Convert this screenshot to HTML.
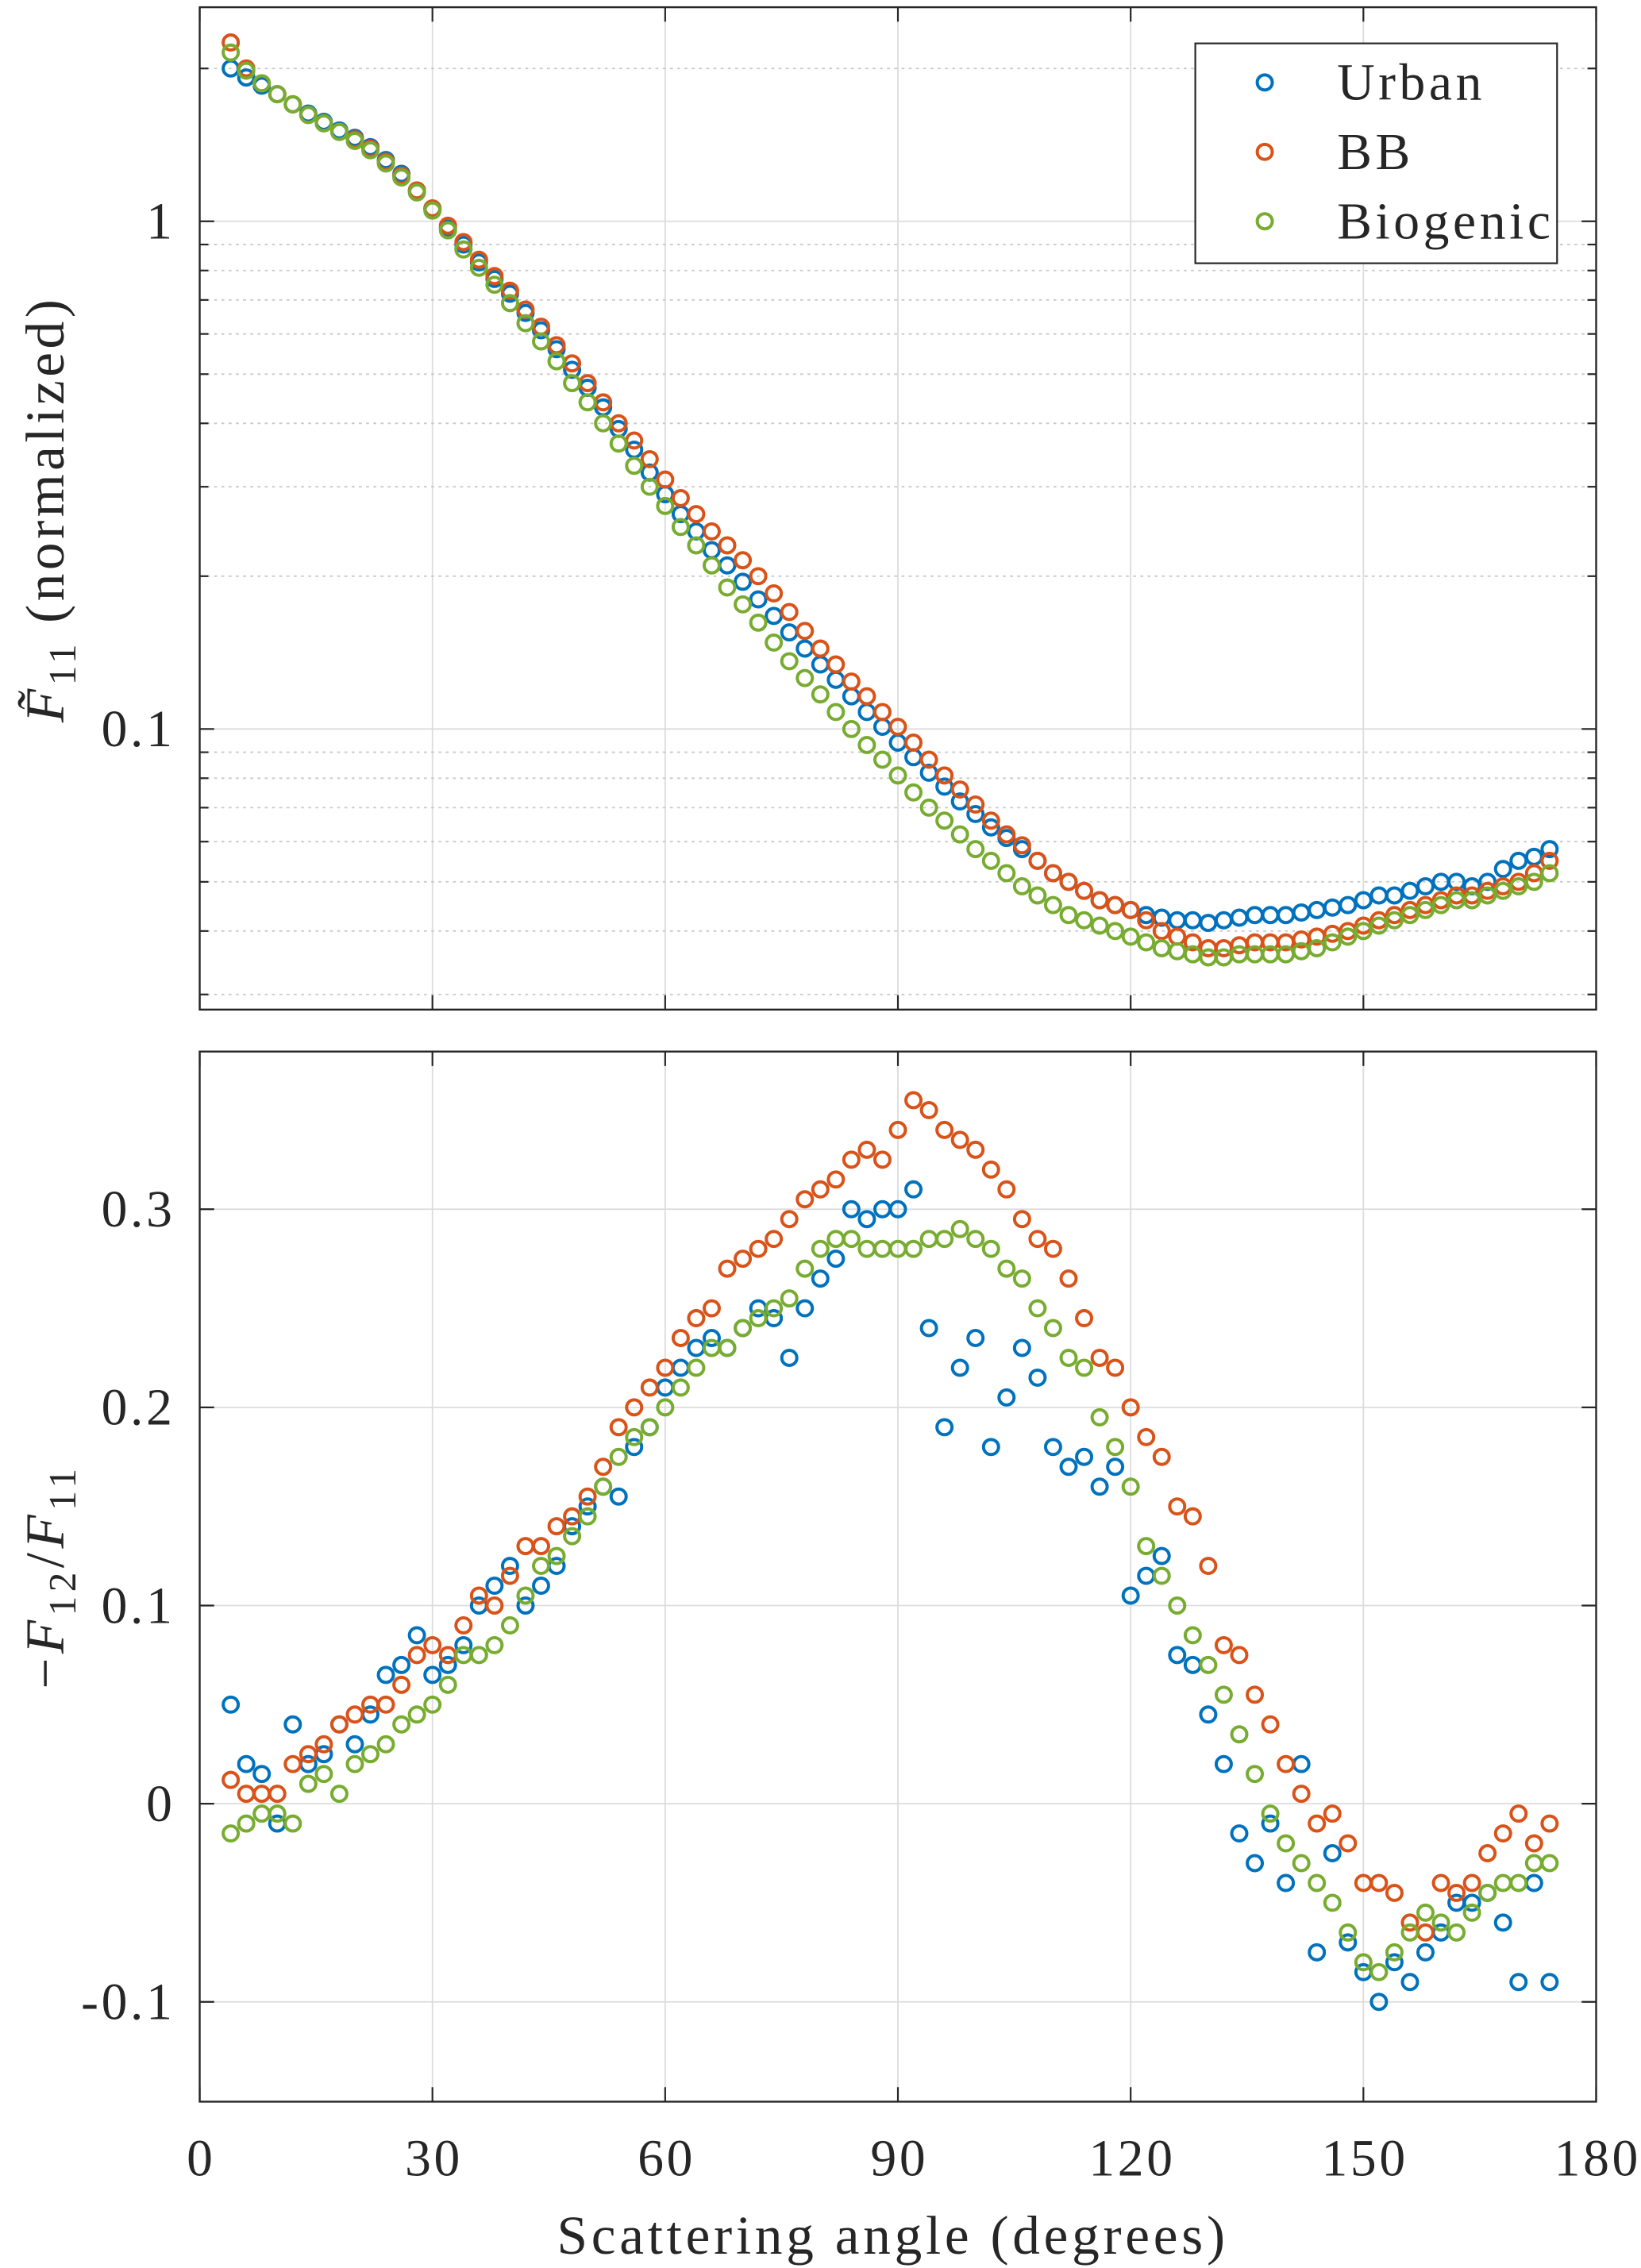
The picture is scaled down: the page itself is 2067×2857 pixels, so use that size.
<!DOCTYPE html>
<html><head><meta charset="utf-8"><style>
html,body{margin:0;padding:0;background:#fff}
svg{display:block}
text{font-family:"Liberation Serif",serif;fill:#262626}
</style></head><body>
<svg id="chart" xmlns="http://www.w3.org/2000/svg" width="2067" height="2857" viewBox="0 0 1134 1568" preserveAspectRatio="none">
<g id="topPanel"></g>
<g id="botPanel"></g>
</svg>
<script>
const angles = [];
for (let a = 4; a <= 174; a += 2) angles.push(a);
const f11Urban = [2.00,1.92,1.85,1.78,1.70,1.63,1.57,1.51,1.46,1.40,1.32,1.24,1.15,1.06,0.97,0.90,0.83,0.77,0.72,0.66,0.61,0.56,0.51,0.47,0.43,0.39,0.355,0.32,0.29,0.265,0.245,0.225,0.21,0.195,0.18,0.167,0.155,0.144,0.134,0.125,0.116,0.108,0.101,0.094,0.088,0.082,0.077,0.072,0.068,0.064,0.061,0.058,0.055,0.052,0.050,0.048,0.046,0.045,0.044,0.043,0.0425,0.042,0.042,0.0415,0.042,0.0425,0.043,0.043,0.043,0.0435,0.044,0.0445,0.045,0.046,0.047,0.047,0.048,0.049,0.050,0.050,0.049,0.050,0.053,0.055,0.056,0.058];
const f11BB = [2.25,2.0,1.87,1.78,1.70,1.62,1.56,1.50,1.45,1.39,1.31,1.23,1.15,1.06,0.98,0.91,0.84,0.78,0.73,0.67,0.62,0.57,0.525,0.48,0.44,0.40,0.37,0.34,0.31,0.285,0.265,0.245,0.23,0.215,0.20,0.185,0.17,0.156,0.144,0.134,0.124,0.116,0.108,0.101,0.094,0.087,0.081,0.076,0.071,0.066,0.062,0.059,0.055,0.052,0.050,0.048,0.046,0.045,0.044,0.042,0.040,0.039,0.038,0.037,0.037,0.0375,0.038,0.038,0.038,0.0385,0.039,0.0395,0.040,0.041,0.042,0.043,0.044,0.045,0.046,0.047,0.047,0.048,0.049,0.050,0.052,0.055];
const f11Bio = [2.15,1.98,1.87,1.78,1.70,1.62,1.56,1.50,1.44,1.38,1.30,1.22,1.14,1.05,0.96,0.88,0.81,0.75,0.69,0.63,0.58,0.53,0.48,0.44,0.40,0.365,0.33,0.30,0.275,0.25,0.23,0.21,0.19,0.176,0.162,0.148,0.136,0.126,0.117,0.108,0.100,0.093,0.087,0.081,0.075,0.070,0.066,0.062,0.058,0.055,0.052,0.049,0.047,0.045,0.043,0.042,0.041,0.040,0.039,0.038,0.037,0.0365,0.036,0.0355,0.0355,0.036,0.036,0.036,0.036,0.0365,0.037,0.038,0.039,0.040,0.041,0.042,0.043,0.044,0.045,0.046,0.046,0.047,0.048,0.049,0.050,0.052];
const polUrban = [0.05,0.02,0.015,-0.01,0.04,0.02,0.025,0.04,0.03,0.045,0.065,0.07,0.085,0.065,0.07,0.08,0.10,0.11,0.12,0.10,0.11,0.12,0.14,0.15,0.16,0.155,0.18,0.19,0.21,0.22,0.23,0.235,0.23,0.24,0.25,0.245,0.225,0.25,0.265,0.275,0.30,0.295,0.30,0.30,0.31,0.24,0.19,0.22,0.235,0.18,0.205,0.23,0.215,0.18,0.17,0.175,0.16,0.17,0.105,0.115,0.125,0.075,0.07,0.045,0.02,-0.015,-0.03,-0.01,-0.04,0.02,-0.075,-0.025,-0.07,-0.085,-0.10,-0.08,-0.09,-0.075,-0.065,-0.05,-0.05,-0.045,-0.06,-0.09,-0.04,-0.09];
const polBB = [0.012,0.005,0.005,0.005,0.02,0.025,0.03,0.04,0.045,0.05,0.05,0.06,0.075,0.08,0.075,0.09,0.105,0.10,0.115,0.13,0.13,0.14,0.145,0.155,0.17,0.19,0.2,0.21,0.22,0.235,0.245,0.25,0.27,0.275,0.28,0.285,0.295,0.305,0.31,0.315,0.325,0.33,0.325,0.34,0.355,0.35,0.34,0.335,0.33,0.32,0.31,0.295,0.285,0.28,0.265,0.245,0.225,0.22,0.2,0.185,0.175,0.15,0.145,0.12,0.08,0.075,0.055,0.04,0.02,0.005,-0.01,-0.005,-0.02,-0.04,-0.04,-0.045,-0.06,-0.065,-0.04,-0.045,-0.04,-0.025,-0.015,-0.005,-0.02,-0.01];
const polBio = [-0.015,-0.01,-0.005,-0.005,-0.01,0.01,0.015,0.005,0.02,0.025,0.03,0.04,0.045,0.05,0.06,0.075,0.075,0.08,0.09,0.105,0.12,0.125,0.135,0.145,0.16,0.175,0.185,0.19,0.2,0.21,0.22,0.23,0.23,0.24,0.245,0.25,0.255,0.27,0.28,0.285,0.285,0.28,0.28,0.28,0.28,0.285,0.285,0.29,0.285,0.28,0.27,0.265,0.25,0.24,0.225,0.22,0.195,0.18,0.16,0.13,0.115,0.1,0.085,0.07,0.055,0.035,0.015,-0.005,-0.02,-0.03,-0.04,-0.05,-0.065,-0.08,-0.085,-0.075,-0.065,-0.055,-0.06,-0.065,-0.055,-0.045,-0.04,-0.04,-0.03,-0.03];
const xTicks = [0,30,60,90,120,150,180];
const topTicks = [0.1, 1];
const topTickLabels = ["0.1","1"];
const botTicks = [-0.1,0,0.1,0.2,0.3];
const botTickLabels = ["-0.1","0","0.1","0.2","0.3"];
const seriesNames = ["Urban","BB","Biogenic"];

const NS="http://www.w3.org/2000/svg";
const colors=["#0072BD","#D95319","#77AC30"];
const X0=138,X1=1103;
const xs=a=>X0+(a/180)*(X1-X0);
const T0=5,T1=698,B0=727,B1=1453;
const ytop=v=>153-Math.log10(v)*351;
const ybot=v=>1247-v*1370;
function mk(parent,tag,attrs,txt){const e=document.createElementNS(NS,tag);for(const k in attrs)e.setAttribute(k,attrs[k]);if(txt!==undefined)e.textContent=txt;parent.appendChild(e);return e;}
const topG=document.getElementById('topPanel'),botG=document.getElementById('botPanel');
const TF={'font-size':36,'letter-spacing':2};

function frame(g,y0,y1){
  xTicks.forEach(t=>{if(t>0&&t<180){const l=mk(g,'line',{x1:xs(t),x2:xs(t),y1:y0,y2:y1,stroke:'#dcdcdc','stroke-width':1});
  
  }
  mk(g,'line',{x1:xs(t),x2:xs(t),y1:y0,y2:y0+10,stroke:'#262626','stroke-width':1.2});
  mk(g,'line',{x1:xs(t),x2:xs(t),y1:y1,y2:y1-10,stroke:'#262626','stroke-width':1.2});});
}
frame(topG,T0,T1);frame(botG,B0,B1);
[0.03,0.04,0.05,0.06,0.07,0.08,0.09,0.2,0.3,0.4,0.5,0.6,0.7,0.8,0.9,2].forEach(v=>{const y=ytop(v);
  const l=mk(topG,'line',{x1:X0,x2:X1,y1:y,y2:y,stroke:'#c8c8c8','stroke-width':1,'stroke-dasharray':'2,3'});
  
  
  mk(topG,'line',{x1:X0,x2:X0+6,y1:y,y2:y,stroke:'#262626','stroke-width':1.2});
  mk(topG,'line',{x1:X1,x2:X1-6,y1:y,y2:y,stroke:'#262626','stroke-width':1.2});});
topTicks.forEach((v,i)=>{const y=ytop(v);
  mk(topG,'line',{x1:X0,x2:X1,y1:y,y2:y,stroke:'#dcdcdc','stroke-width':1});
  mk(topG,'line',{x1:X0,x2:X0+10,y1:y,y2:y,stroke:'#262626','stroke-width':1.2});
  mk(topG,'line',{x1:X1,x2:X1-10,y1:y,y2:y,stroke:'#262626','stroke-width':1.2});
  const t=mk(topG,'text',Object.assign({x:X0-17,y:y+12,'text-anchor':'end'},TF),topTickLabels[i]);
  
  });
botTicks.forEach((v,i)=>{const y=ybot(v);
  mk(botG,'line',{x1:X0,x2:X1,y1:y,y2:y,stroke:'#dcdcdc','stroke-width':1});
  mk(botG,'line',{x1:X0,x2:X0+10,y1:y,y2:y,stroke:'#262626','stroke-width':1.2});
  mk(botG,'line',{x1:X1,x2:X1-10,y1:y,y2:y,stroke:'#262626','stroke-width':1.2});
  const t=mk(botG,'text',Object.assign({x:X0-17,y:y+12,'text-anchor':'end'},TF),botTickLabels[i]);
  
  });
xTicks.forEach(t=>{const e=mk(botG,'text',Object.assign({x:xs(t)+1,y:1504,'text-anchor':'middle'},TF),String(t));
  
  });

function series(g,vals,fy,c,name){const gg=mk(g,'g',{});
  
  
  vals.forEach((v,i)=>{const m=mk(gg,'circle',{cx:xs(angles[i]),cy:fy(v),r:5.2,fill:'none',stroke:c,'stroke-width':2.2});
  
  });}
series(topG,f11Urban,ytop,colors[0],'urban-f11-series');
series(topG,f11BB,ytop,colors[1],'bb-f11-series');
series(topG,f11Bio,ytop,colors[2],'biogenic-f11-series');
series(botG,polUrban,ybot,colors[0],'urban-pol-series');
series(botG,polBB,ybot,colors[1],'bb-pol-series');
series(botG,polBio,ybot,colors[2],'biogenic-pol-series');

mk(topG,'rect',{x:X0,y:T0,width:X1-X0,height:T1-T0,fill:'none',stroke:'#262626','stroke-width':1.3});
mk(botG,'rect',{x:X0,y:B0,width:X1-X0,height:B1-B0,fill:'none',stroke:'#262626','stroke-width':1.3});

const lg=mk(topG,'g',{});


mk(lg,'rect',{x:826,y:30,width:250,height:152,fill:'#fff',stroke:'#262626','stroke-width':1.2});
seriesNames.forEach((n,i)=>{const y=57+i*48;
  const e=mk(lg,'g',{});
  
  
  mk(e,'circle',{cx:874,cy:y,r:5.2,fill:'none',stroke:colors[i],'stroke-width':2.2});
  mk(e,'text',{x:924,y:y+12,'font-size':36,'letter-spacing':2.5},n);});

const yl1=mk(topG,'text',{transform:'translate(44,352) rotate(-90)','text-anchor':'middle','font-size':38,'letter-spacing':2.5});


yl1.innerHTML='<tspan font-style="italic">F̃</tspan><tspan font-size="27" dy="8">11</tspan><tspan dy="-8"> (normalized)</tspan>';
const yl2=mk(botG,'text',{transform:'translate(44,1090) rotate(-90)','text-anchor':'middle','font-size':38,'letter-spacing':3});


yl2.innerHTML='−<tspan font-style="italic">F</tspan><tspan font-size="27" dy="8">12</tspan><tspan dy="-8">/</tspan><tspan font-style="italic">F</tspan><tspan font-size="27" dy="8">11</tspan>';
const xl=mk(botG,'text',{x:617,y:1558,'text-anchor':'middle','font-size':38,'letter-spacing':2.6},'Scattering angle (degrees)');


</script>
</body></html>
